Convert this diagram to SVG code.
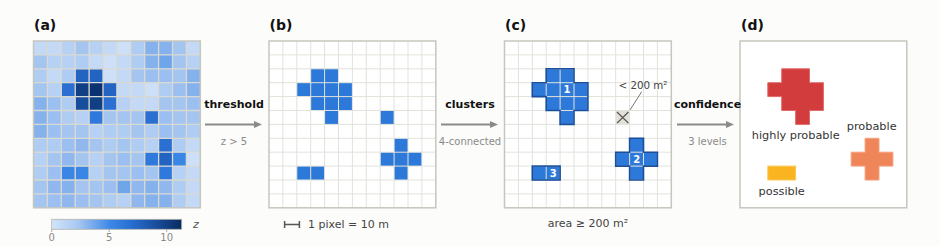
<svg xmlns="http://www.w3.org/2000/svg" xmlns:xlink="http://www.w3.org/1999/xlink" width="940" height="246" viewBox="0 0 940 246">
<style>
text{font-family:"DejaVu Sans","Liberation Sans",sans-serif}
.title{font-size:14px;font-weight:bold;fill:#111}
.op{font-size:11px;font-weight:bold;fill:#111;text-anchor:middle}
.sub{font-size:10px;fill:#8a8a8a;text-anchor:middle}
.cap{font-size:11px;fill:#444}
.lab{font-size:11.3px;fill:#333;text-anchor:middle}
.num{font-size:10px;font-weight:bold;fill:#fff;text-anchor:middle}
.frame{fill:none;stroke:#c6c6be;stroke-width:1.5}
.gA{fill:none;stroke:#d9d9d3;stroke-width:1.3}
.gB{fill:none;stroke:#e2e2dc;stroke-width:1}
.blue{fill:#2c79d9}
.outline{fill:none;stroke:#1b4f9c;stroke-width:1.6;stroke-linejoin:miter}
.conn{stroke:#8a8a8a;stroke-width:1.8;fill:none}
.p1{fill:#cde0f8}.p2{fill:#c3d9f6}.p3{fill:#b7d1f4}.p4{fill:#afccf3}.p5{fill:#a5c5f1}.p6{fill:#9bbff0}.p7{fill:#90b8ee}.p8{fill:#85b1ec}.p9{fill:#6fa5e9}
.d1{fill:#3a86e5}.d2{fill:#2f79dc}.d3{fill:#2a6fd1}.d4{fill:#2363c1}.d5{fill:#164d9d}.d6{fill:#113f84}.d7{fill:#0c3170}
</style>
<defs>
<path id="grid" d="M13.9,0V166.8M27.8,0V166.8M41.7,0V166.8M55.6,0V166.8M69.5,0V166.8M83.4,0V166.8M97.3,0V166.8M111.2,0V166.8M125.1,0V166.8M139,0V166.8M152.9,0V166.8M0,13.9H166.8M0,27.8H166.8M0,41.7H166.8M0,55.6H166.8M0,69.5H166.8M0,83.4H166.8M0,97.3H166.8M0,111.2H166.8M0,125.1H166.8M0,139H166.8M0,152.9H166.8"/>
<path id="c1" d="M41.7,27.8H69.5V41.7H83.4V69.5H69.5V83.4H55.6V69.5H41.7V55.6H27.8V41.7H41.7Z"/>
<path id="c2" d="M125.1,97.3H139V111.2H152.9V125.1H139V139H125.1V125.1H111.2V111.2H125.1Z"/>
<rect id="c3" x="27.8" y="125.1" width="27.8" height="13.9"/>
<linearGradient id="cmap" x1="0" y1="0" x2="1" y2="0">
<stop offset="0" stop-color="#d2e4f8"/>
<stop offset="0.2" stop-color="#a8c8f2"/>
<stop offset="0.45" stop-color="#3d88e6"/>
<stop offset="0.6" stop-color="#2870d4"/>
<stop offset="0.8" stop-color="#1a4e9e"/>
<stop offset="1" stop-color="#0a2b60"/>
</linearGradient>
<marker id="arr" viewBox="0 0 8 7" refX="3" refY="3.5" markerWidth="8" markerHeight="7" markerUnits="userSpaceOnUse" orient="auto">
<path d="M0,0L8,3.5L0,7Z" fill="#8a8a8a"/>
</marker>
</defs>
<rect width="940" height="246" fill="#fcfcfa"/>

<g id="panel-a">
<text class="title" x="34" y="30">(a)</text>
<g transform="translate(33.5,41)">
<rect class="p2" x="0" y="0" width="13.9" height="13.9"/><rect class="p2" x="13.9" y="0" width="13.9" height="13.9"/><rect class="p3" x="27.8" y="0" width="13.9" height="13.9"/><rect class="p5" x="41.7" y="0" width="13.9" height="13.9"/><rect class="p3" x="55.6" y="0" width="13.9" height="13.9"/><rect class="p2" x="69.5" y="0" width="13.9" height="13.9"/><rect class="p1" x="83.4" y="0" width="13.9" height="13.9"/><rect class="p4" x="97.3" y="0" width="13.9" height="13.9"/><rect class="p8" x="111.2" y="0" width="13.9" height="13.9"/><rect class="p8" x="125.1" y="0" width="13.9" height="13.9"/><rect class="p5" x="139" y="0" width="13.9" height="13.9"/><rect class="p2" x="152.9" y="0" width="13.9" height="13.9"/>
<rect class="p5" x="0" y="13.9" width="13.9" height="13.9"/><rect class="p3" x="13.9" y="13.9" width="13.9" height="13.9"/><rect class="p3" x="27.8" y="13.9" width="13.9" height="13.9"/><rect class="p4" x="41.7" y="13.9" width="13.9" height="13.9"/><rect class="p2" x="55.6" y="13.9" width="13.9" height="13.9"/><rect class="p1" x="69.5" y="13.9" width="13.9" height="13.9"/><rect class="p2" x="83.4" y="13.9" width="13.9" height="13.9"/><rect class="p4" x="97.3" y="13.9" width="13.9" height="13.9"/><rect class="p8" x="111.2" y="13.9" width="13.9" height="13.9"/><rect class="p9" x="125.1" y="13.9" width="13.9" height="13.9"/><rect class="p5" x="139" y="13.9" width="13.9" height="13.9"/><rect class="p3" x="152.9" y="13.9" width="13.9" height="13.9"/>
<rect class="p4" x="0" y="27.8" width="13.9" height="13.9"/><rect class="p2" x="13.9" y="27.8" width="13.9" height="13.9"/><rect class="p4" x="27.8" y="27.8" width="13.9" height="13.9"/><rect class="d4" x="41.7" y="27.8" width="13.9" height="13.9"/><rect class="d4" x="55.6" y="27.8" width="13.9" height="13.9"/><rect class="p1" x="69.5" y="27.8" width="13.9" height="13.9"/><rect class="p2" x="83.4" y="27.8" width="13.9" height="13.9"/><rect class="p5" x="97.3" y="27.8" width="13.9" height="13.9"/><rect class="p6" x="111.2" y="27.8" width="13.9" height="13.9"/><rect class="p6" x="125.1" y="27.8" width="13.9" height="13.9"/><rect class="p5" x="139" y="27.8" width="13.9" height="13.9"/><rect class="p8" x="152.9" y="27.8" width="13.9" height="13.9"/>
<rect class="p5" x="0" y="41.7" width="13.9" height="13.9"/><rect class="p3" x="13.9" y="41.7" width="13.9" height="13.9"/><rect class="d3" x="27.8" y="41.7" width="13.9" height="13.9"/><rect class="d6" x="41.7" y="41.7" width="13.9" height="13.9"/><rect class="d7" x="55.6" y="41.7" width="13.9" height="13.9"/><rect class="d4" x="69.5" y="41.7" width="13.9" height="13.9"/><rect class="p2" x="83.4" y="41.7" width="13.9" height="13.9"/><rect class="p2" x="97.3" y="41.7" width="13.9" height="13.9"/><rect class="p1" x="111.2" y="41.7" width="13.9" height="13.9"/><rect class="p4" x="125.1" y="41.7" width="13.9" height="13.9"/><rect class="p6" x="139" y="41.7" width="13.9" height="13.9"/><rect class="p8" x="152.9" y="41.7" width="13.9" height="13.9"/>
<rect class="p8" x="0" y="55.6" width="13.9" height="13.9"/><rect class="p6" x="13.9" y="55.6" width="13.9" height="13.9"/><rect class="p4" x="27.8" y="55.6" width="13.9" height="13.9"/><rect class="d5" x="41.7" y="55.6" width="13.9" height="13.9"/><rect class="d6" x="55.6" y="55.6" width="13.9" height="13.9"/><rect class="d3" x="69.5" y="55.6" width="13.9" height="13.9"/><rect class="p3" x="83.4" y="55.6" width="13.9" height="13.9"/><rect class="p2" x="97.3" y="55.6" width="13.9" height="13.9"/><rect class="p2" x="111.2" y="55.6" width="13.9" height="13.9"/><rect class="p5" x="125.1" y="55.6" width="13.9" height="13.9"/><rect class="p5" x="139" y="55.6" width="13.9" height="13.9"/><rect class="p6" x="152.9" y="55.6" width="13.9" height="13.9"/>
<rect class="p8" x="0" y="69.5" width="13.9" height="13.9"/><rect class="p6" x="13.9" y="69.5" width="13.9" height="13.9"/><rect class="p4" x="27.8" y="69.5" width="13.9" height="13.9"/><rect class="p3" x="41.7" y="69.5" width="13.9" height="13.9"/><rect class="d2" x="55.6" y="69.5" width="13.9" height="13.9"/><rect class="p5" x="69.5" y="69.5" width="13.9" height="13.9"/><rect class="p5" x="83.4" y="69.5" width="13.9" height="13.9"/><rect class="p5" x="97.3" y="69.5" width="13.9" height="13.9"/><rect class="d3" x="111.2" y="69.5" width="13.9" height="13.9"/><rect class="p6" x="125.1" y="69.5" width="13.9" height="13.9"/><rect class="p5" x="139" y="69.5" width="13.9" height="13.9"/><rect class="p5" x="152.9" y="69.5" width="13.9" height="13.9"/>
<rect class="p8" x="0" y="83.4" width="13.9" height="13.9"/><rect class="p6" x="13.9" y="83.4" width="13.9" height="13.9"/><rect class="p5" x="27.8" y="83.4" width="13.9" height="13.9"/><rect class="p5" x="41.7" y="83.4" width="13.9" height="13.9"/><rect class="p3" x="55.6" y="83.4" width="13.9" height="13.9"/><rect class="p4" x="69.5" y="83.4" width="13.9" height="13.9"/><rect class="p4" x="83.4" y="83.4" width="13.9" height="13.9"/><rect class="p5" x="97.3" y="83.4" width="13.9" height="13.9"/><rect class="p4" x="111.2" y="83.4" width="13.9" height="13.9"/><rect class="p6" x="125.1" y="83.4" width="13.9" height="13.9"/><rect class="p5" x="139" y="83.4" width="13.9" height="13.9"/><rect class="p4" x="152.9" y="83.4" width="13.9" height="13.9"/>
<rect class="p4" x="0" y="97.3" width="13.9" height="13.9"/><rect class="p4" x="13.9" y="97.3" width="13.9" height="13.9"/><rect class="p6" x="27.8" y="97.3" width="13.9" height="13.9"/><rect class="p7" x="41.7" y="97.3" width="13.9" height="13.9"/><rect class="p5" x="55.6" y="97.3" width="13.9" height="13.9"/><rect class="p4" x="69.5" y="97.3" width="13.9" height="13.9"/><rect class="p5" x="83.4" y="97.3" width="13.9" height="13.9"/><rect class="p4" x="97.3" y="97.3" width="13.9" height="13.9"/><rect class="p3" x="111.2" y="97.3" width="13.9" height="13.9"/><rect class="d3" x="125.1" y="97.3" width="13.9" height="13.9"/><rect class="p4" x="139" y="97.3" width="13.9" height="13.9"/><rect class="p2" x="152.9" y="97.3" width="13.9" height="13.9"/>
<rect class="p3" x="0" y="111.2" width="13.9" height="13.9"/><rect class="p5" x="13.9" y="111.2" width="13.9" height="13.9"/><rect class="p7" x="27.8" y="111.2" width="13.9" height="13.9"/><rect class="p5" x="41.7" y="111.2" width="13.9" height="13.9"/><rect class="p3" x="55.6" y="111.2" width="13.9" height="13.9"/><rect class="p5" x="69.5" y="111.2" width="13.9" height="13.9"/><rect class="p6" x="83.4" y="111.2" width="13.9" height="13.9"/><rect class="p5" x="97.3" y="111.2" width="13.9" height="13.9"/><rect class="d2" x="111.2" y="111.2" width="13.9" height="13.9"/><rect class="d4" x="125.1" y="111.2" width="13.9" height="13.9"/><rect class="d1" x="139" y="111.2" width="13.9" height="13.9"/><rect class="p1" x="152.9" y="111.2" width="13.9" height="13.9"/>
<rect class="p4" x="0" y="125.1" width="13.9" height="13.9"/><rect class="p6" x="13.9" y="125.1" width="13.9" height="13.9"/><rect class="d1" x="27.8" y="125.1" width="13.9" height="13.9"/><rect class="d1" x="41.7" y="125.1" width="13.9" height="13.9"/><rect class="p3" x="55.6" y="125.1" width="13.9" height="13.9"/><rect class="p5" x="69.5" y="125.1" width="13.9" height="13.9"/><rect class="p5" x="83.4" y="125.1" width="13.9" height="13.9"/><rect class="p6" x="97.3" y="125.1" width="13.9" height="13.9"/><rect class="p5" x="111.2" y="125.1" width="13.9" height="13.9"/><rect class="d2" x="125.1" y="125.1" width="13.9" height="13.9"/><rect class="p3" x="139" y="125.1" width="13.9" height="13.9"/><rect class="p2" x="152.9" y="125.1" width="13.9" height="13.9"/>
<rect class="p5" x="0" y="139" width="13.9" height="13.9"/><rect class="p7" x="13.9" y="139" width="13.9" height="13.9"/><rect class="p8" x="27.8" y="139" width="13.9" height="13.9"/><rect class="p5" x="41.7" y="139" width="13.9" height="13.9"/><rect class="p5" x="55.6" y="139" width="13.9" height="13.9"/><rect class="p6" x="69.5" y="139" width="13.9" height="13.9"/><rect class="p9" x="83.4" y="139" width="13.9" height="13.9"/><rect class="p7" x="97.3" y="139" width="13.9" height="13.9"/><rect class="p8" x="111.2" y="139" width="13.9" height="13.9"/><rect class="p7" x="125.1" y="139" width="13.9" height="13.9"/><rect class="p4" x="139" y="139" width="13.9" height="13.9"/><rect class="p2" x="152.9" y="139" width="13.9" height="13.9"/>
<rect class="p5" x="0" y="152.9" width="13.9" height="13.9"/><rect class="p6" x="13.9" y="152.9" width="13.9" height="13.9"/><rect class="p7" x="27.8" y="152.9" width="13.9" height="13.9"/><rect class="p6" x="41.7" y="152.9" width="13.9" height="13.9"/><rect class="p5" x="55.6" y="152.9" width="13.9" height="13.9"/><rect class="p4" x="69.5" y="152.9" width="13.9" height="13.9"/><rect class="p3" x="83.4" y="152.9" width="13.9" height="13.9"/><rect class="p7" x="97.3" y="152.9" width="13.9" height="13.9"/><rect class="p8" x="111.2" y="152.9" width="13.9" height="13.9"/><rect class="p8" x="125.1" y="152.9" width="13.9" height="13.9"/><rect class="p4" x="139" y="152.9" width="13.9" height="13.9"/><rect class="p2" x="152.9" y="152.9" width="13.9" height="13.9"/>
<use xlink:href="#grid" class="gA"/>
<rect class="frame" x="0" y="0" width="166.8" height="166.8"/>
</g>
</g>

<g id="colorbar">
<rect x="51.7" y="219.3" width="130" height="10" fill="url(#cmap)" stroke="#b4b4ae" stroke-width="0.8"/>
<path d="M51.7,229.3V232M109.2,229.3V232M166.7,229.3V232" stroke="#999" stroke-width="0.8"/>
<text class="sub" x="51.7" y="241">0</text>
<text class="sub" x="109.2" y="241">5</text>
<text class="sub" x="166.7" y="241">10</text>
<text x="193" y="228" font-size="11" font-style="italic" fill="#555">z</text>
</g>

<g id="panel-b">
<text class="title" x="269.5" y="30">(b)</text>
<g transform="translate(269,41)">
<rect x="0" y="0" width="166.8" height="166.8" fill="#fff"/>
<use xlink:href="#c1" class="blue"/>
<use xlink:href="#c2" class="blue"/>
<use xlink:href="#c3" class="blue"/>
<rect class="blue" x="111.2" y="69.5" width="13.9" height="13.9"/>
<use xlink:href="#grid" class="gB"/>
<rect class="frame" x="0" y="0" width="166.8" height="166.8"/>
</g>
<path d="M284,224.5H300M284.6,221V228M299.4,221V228" stroke="#555" stroke-width="1.5" fill="none"/>
<text class="cap" x="308" y="228">1 pixel = 10 m</text>
</g>

<g id="panel-c">
<text class="title" x="505" y="30">(c)</text>
<g transform="translate(504.5,41)">
<rect x="0" y="0" width="166.8" height="166.8" fill="#fff"/>
<use xlink:href="#c1" class="blue"/>
<use xlink:href="#c2" class="blue"/>
<use xlink:href="#c3" class="blue"/>
<rect x="111.2" y="69.5" width="13.9" height="13.9" fill="#e3e1d9"/>
<use xlink:href="#grid" class="gB"/>
<use xlink:href="#c1" class="outline"/>
<use xlink:href="#c2" class="outline"/>
<use xlink:href="#c3" class="outline"/>
<path d="M112.5,71L123.9,82.1M123.9,71L112.5,82.1" stroke="#555" stroke-width="1.3"/>
<rect class="frame" x="0" y="0" width="166.8" height="166.8"/>
</g>
<text class="num" x="567" y="93.3">1</text>
<text class="num" x="636.7" y="162.9">2</text>
<text class="num" x="553.2" y="176.8">3</text>
<path d="M630,110L641.7,91.7" stroke="#777" stroke-width="1"/>
<text x="618.5" y="89.3" font-size="10.3" fill="#444">&lt; 200 m²</text>
<text class="cap" x="588" y="227" text-anchor="middle">area ≥ 200 m²</text>
</g>

<g id="panel-d">
<text class="title" x="741" y="30">(d)</text>
<g transform="translate(740,41)">
<rect x="0" y="0" width="166.8" height="166.8" fill="#fff"/>
<use xlink:href="#c1" fill="#d33c3c" stroke="#e06a6a" stroke-width="1"/>
<use xlink:href="#c2" fill="#ee8659" stroke="#f4a07c" stroke-width="1"/>
<use xlink:href="#c3" fill="#fab41f" stroke="#fcc85a" stroke-width="1"/>
<rect class="frame" x="0" y="0" width="166.8" height="166.8"/>
</g>
<text class="lab" x="795.7" y="139.3">highly probable</text>
<text class="lab" x="871.7" y="130">probable</text>
<text class="lab" x="781.7" y="195">possible</text>
</g>

<g id="connectors">
<line class="conn" x1="205" y1="124.5" x2="257" y2="124.5" marker-end="url(#arr)"/>
<line class="conn" x1="441" y1="124.5" x2="493" y2="124.5" marker-end="url(#arr)"/>
<line class="conn" x1="677" y1="124.5" x2="729" y2="124.5" marker-end="url(#arr)"/>
<text class="op" x="234" y="107.5">threshold</text>
<text class="sub" x="234" y="145">z &gt; 5</text>
<text class="op" x="470" y="107.5">clusters</text>
<text class="sub" x="470" y="144.5">4-connected</text>
<text class="op" x="707.5" y="107.5">confidence</text>
<text class="sub" x="707.5" y="144.5">3 levels</text>
</g>
</svg>
